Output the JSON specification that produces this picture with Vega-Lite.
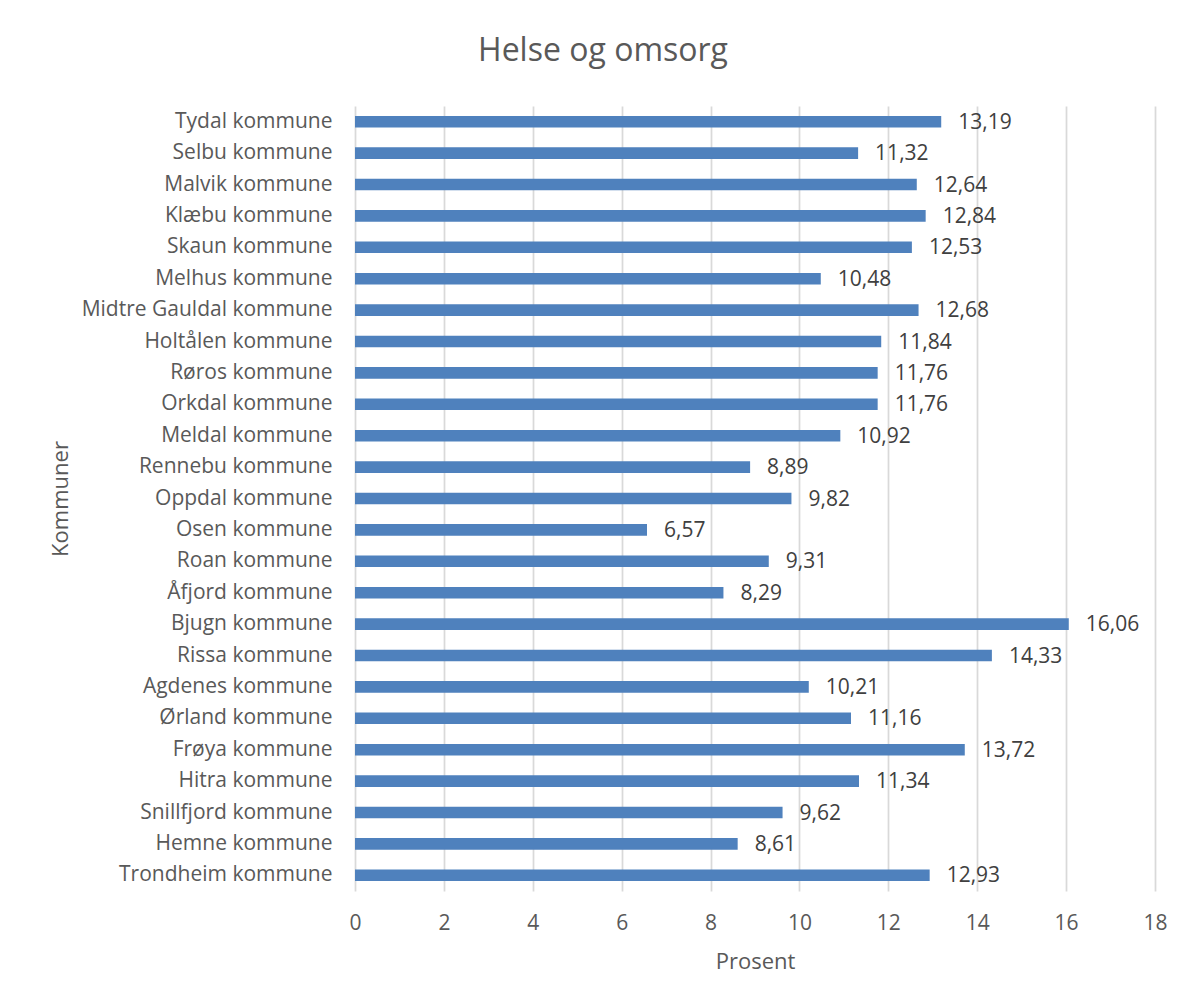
{
  "$schema": "https://vega.github.io/schema/vega-lite/v6.json",
  "autosize": {"type": "none"},
  "width": 800,
  "height": 785,
  "padding": {"left": 355, "top": 106, "right": 37, "bottom": 112},
  "background": "white",
  "title": {
    "text": "Helse og omsorg",
    "anchor": "middle",
    "frame": "group",
    "dx": -152,
    "baseline": "alphabetic",
    "offset": 13,
    "font": "Open Sans",
    "fontSize": 32,
    "fontWeight": "normal",
    "color": "#595959"
  },
  "data": {
    "values": [
      {"kommune": "Tydal kommune", "prosent": 13.19},
      {"kommune": "Selbu kommune", "prosent": 11.32},
      {"kommune": "Malvik kommune", "prosent": 12.64},
      {"kommune": "Klæbu kommune", "prosent": 12.84},
      {"kommune": "Skaun kommune", "prosent": 12.53},
      {"kommune": "Melhus kommune", "prosent": 10.48},
      {"kommune": "Midtre Gauldal kommune", "prosent": 12.68},
      {"kommune": "Holtålen kommune", "prosent": 11.84},
      {"kommune": "Røros kommune", "prosent": 11.76},
      {"kommune": "Orkdal kommune", "prosent": 11.76},
      {"kommune": "Meldal kommune", "prosent": 10.92},
      {"kommune": "Rennebu kommune", "prosent": 8.89},
      {"kommune": "Oppdal kommune", "prosent": 9.82},
      {"kommune": "Osen kommune", "prosent": 6.57},
      {"kommune": "Roan kommune", "prosent": 9.31},
      {"kommune": "Åfjord kommune", "prosent": 8.29},
      {"kommune": "Bjugn kommune", "prosent": 16.06},
      {"kommune": "Rissa kommune", "prosent": 14.33},
      {"kommune": "Agdenes kommune", "prosent": 10.21},
      {"kommune": "Ørland kommune", "prosent": 11.16},
      {"kommune": "Frøya kommune", "prosent": 13.72},
      {"kommune": "Hitra kommune", "prosent": 11.34},
      {"kommune": "Snillfjord kommune", "prosent": 9.62},
      {"kommune": "Hemne kommune", "prosent": 8.61},
      {"kommune": "Trondheim kommune", "prosent": 12.93}
    ]
  },
  "encoding": {
    "y": {
      "field": "kommune",
      "type": "nominal",
      "sort": null,
      "scale": {"paddingInner": 0.63, "paddingOuter": 0.315},
      "axis": {
        "title": "Kommuner",
        "titleFont": "Open Sans",
        "titleFontSize": 22,
        "titleFontWeight": "normal",
        "titleColor": "#595959",
        "titleX": -288,
        "titleY": 392.5,
        "titleAngle": -90,
        "titleAlign": "center",
        "titleBaseline": "alphabetic",
        "labelFont": "Open Sans",
        "labelFontSize": 21,
        "labelColor": "#595959",
        "labelPadding": 23,
        "labelLimit": 400,
        "ticks": false,
        "tickSize": 0,
        "domain": false,
        "grid": false
      }
    },
    "x": {
      "field": "prosent",
      "type": "quantitative",
      "scale": {"domain": [0, 18], "nice": false},
      "axis": {
        "title": "Prosent",
        "titleFont": "Open Sans",
        "titleFontSize": 22,
        "titleFontWeight": "normal",
        "titleColor": "#595959",
        "titleY": 77,
        "titleBaseline": "alphabetic",
        "values": [0, 2, 4, 6, 8, 10, 12, 14, 16, 18],
        "format": "d",
        "labelFont": "Open Sans",
        "labelFontSize": 21,
        "labelColor": "#595959",
        "labelPadding": 21,
        "labelFlush": false,
        "labelOverlap": false,
        "ticks": false,
        "tickSize": 0,
        "domain": false,
        "grid": true,
        "gridColor": "#d9d9d9",
        "gridWidth": 1.75
      }
    }
  },
  "layer": [
    {
      "mark": {"type": "bar", "color": "#4f81bd", "cornerRadius": 0}
    },
    {
      "mark": {
        "type": "text",
        "align": "left",
        "baseline": "middle",
        "dx": 17,
        "dy": 1,
        "font": "Open Sans",
        "fontSize": 21,
        "color": "#404040"
      },
      "encoding": {
        "text": {"field": "prosent", "type": "quantitative", "format": ".2f"}
      }
    }
  ],
  "config": {
    "view": {"stroke": null},
    "locale": {
      "number": {
        "decimal": ",",
        "thousands": "\u00a0",
        "grouping": [3],
        "currency": ["", " kr"]
      }
    }
  }
}
